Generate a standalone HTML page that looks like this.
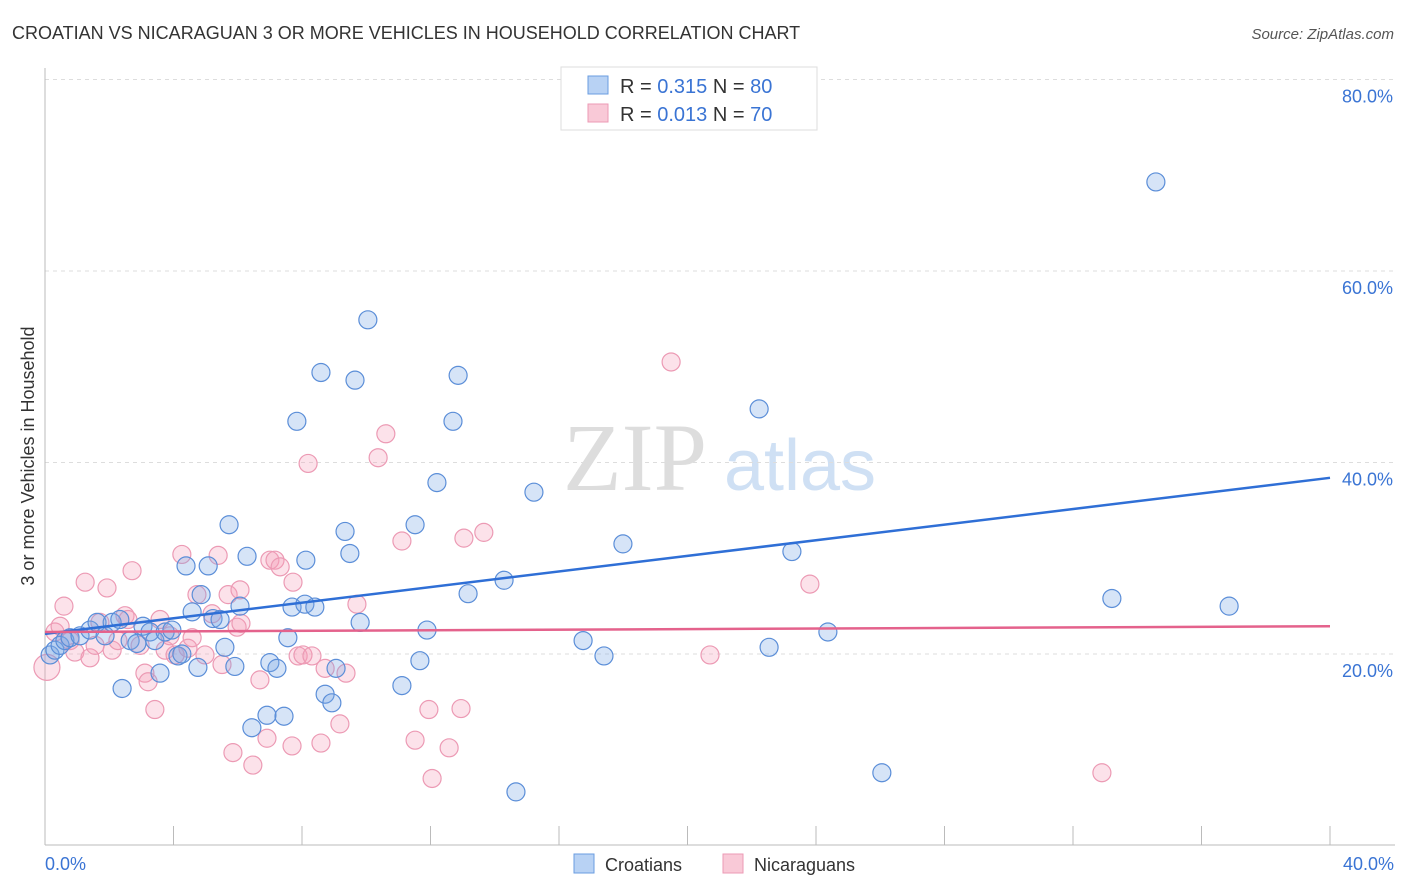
<!DOCTYPE html>
<html><head><meta charset="utf-8"><style>
body{margin:0;background:#fff;font-family:"Liberation Sans",sans-serif}
svg{display:block}
</style></head><body>
<svg width="1406" height="892">
<text x="12" y="39" font-size="18" fill="#333">CROATIAN VS NICARAGUAN 3 OR MORE VEHICLES IN HOUSEHOLD CORRELATION CHART</text>
<text x="1394" y="39" font-size="15" fill="#555" font-style="italic" text-anchor="end">Source: ZipAtlas.com</text>
<text x="635" y="490" font-size="96" fill="#ddd" font-family="Liberation Serif" text-anchor="middle">ZIP</text>
<text x="800" y="490" font-size="72" fill="#cfe0f4" text-anchor="middle">atlas</text>
<g id="grid"></g>
<g id="axes"></g>
<g id="pts"></g>
<g id="lines"></g>
<text transform="translate(34,456) rotate(-90)" font-size="18" fill="#333" text-anchor="middle">3 or more Vehicles in Household</text>
<text x="45" y="870" font-size="18" fill="#3a74d4">0.0%</text>
<text x="1394" y="870" font-size="18" fill="#3a74d4" text-anchor="end">40.0%</text>
<g>
<rect x="561" y="67" width="256" height="63" fill="#fff" stroke="#ddd"/>
<rect x="588" y="76" width="20" height="18" fill="#b8d2f4" stroke="#6a9ce0"/>
<rect x="588" y="104" width="20" height="18" fill="#f9c9d7" stroke="#ec9ab4"/>
<text x="620" y="93" font-size="20" fill="#333">R = <tspan fill="#3a74d4">0.315</tspan>   N = <tspan fill="#3a74d4">80</tspan></text>
<text x="620" y="121" font-size="20" fill="#333">R = <tspan fill="#3a74d4">0.013</tspan>   N = <tspan fill="#3a74d4">70</tspan></text>
</g>
<g>
<rect x="574" y="854" width="20" height="19" fill="#b8d2f4" stroke="#6a9ce0"/>
<text x="605" y="871" font-size="18" fill="#333">Croatians</text>
<rect x="723" y="854" width="20" height="19" fill="#f9c9d7" stroke="#ec9ab4"/>
<text x="754" y="871" font-size="18" fill="#333">Nicaraguans</text>
</g>
</svg>
<script>
const yTicks=[20,40,60,80];
const yTickLabels=["20.0%","40.0%","60.0%","80.0%"];
const xTicks=[0,4,8,12,16,20,24,28,32,36,40];
const blueX=[0.16,0.31,0.47,0.62,0.78,1.09,1.4,1.62,1.87,2.09,2.33,2.4,2.65,2.86,3.05,3.27,3.42,3.58,3.74,3.95,4.14,4.26,4.39,4.58,4.76,4.86,5.08,5.23,5.45,5.6,5.73,5.91,6.07,6.29,6.44,6.91,7.0,7.22,7.44,7.56,7.69,7.84,8.09,8.12,8.4,8.59,8.72,8.93,9.06,9.34,9.49,9.65,9.81,10.05,11.11,11.52,11.67,11.89,12.2,12.7,12.86,13.17,14.29,14.66,15.22,16.75,17.4,17.99,22.23,22.54,23.25,24.37,26.05,33.21,34.58,36.86];
const blueY=[19.9,20.4,20.9,21.4,21.7,21.9,22.5,23.3,21.9,23.3,23.6,16.4,21.4,21.1,22.9,22.3,21.4,18.0,22.3,22.5,19.8,20.0,29.2,24.4,18.6,26.2,29.2,23.7,23.6,20.7,33.5,18.7,25.0,30.2,12.3,13.6,19.1,18.5,13.5,21.7,24.9,44.3,25.2,29.8,24.9,49.4,15.8,14.9,18.5,32.8,30.5,48.6,23.3,54.9,16.7,33.5,19.3,22.5,37.9,44.3,49.1,26.3,27.7,5.6,36.9,21.4,19.8,31.5,45.6,20.7,30.7,22.3,7.6,25.8,69.3,25.0];
const pinkX=[0.06,0.31,0.47,0.59,0.78,0.93,1.25,1.4,1.56,1.71,1.93,2.09,2.27,2.49,2.58,2.71,2.96,3.11,3.21,3.42,3.58,3.74,3.89,4.05,4.26,4.45,4.58,4.73,4.98,5.2,5.39,5.51,5.7,5.85,5.98,6.07,6.1,6.47,6.69,6.91,7.0,7.16,7.32,7.69,7.72,7.88,8.03,8.19,8.31,8.59,8.72,9.18,9.37,9.71,10.37,10.61,11.11,11.52,11.95,12.05,12.58,12.95,13.04,13.66,19.49,20.7,23.81,32.9];
const pinkY=[18.6,22.3,22.9,25.0,21.4,20.2,27.5,19.6,20.9,23.3,26.9,20.4,21.4,24.0,23.6,28.7,20.9,18.0,17.1,14.2,23.6,20.4,21.9,19.9,30.4,20.6,21.7,26.2,19.9,24.2,30.3,18.9,26.2,9.7,22.8,26.7,23.2,8.4,17.3,11.2,29.8,29.8,29.1,10.4,27.5,19.8,19.9,39.9,19.8,10.7,18.5,12.7,18.0,25.2,40.5,43.0,31.8,11.0,14.2,7.0,10.2,14.3,32.1,32.7,50.5,19.9,27.3,7.6];
const blueTrend=[22.1,38.4];
const pinkTrend=[22.3,22.9];
const NS="http://www.w3.org/2000/svg";
const X=v=>45+v*32.125, Y=v=>845.5-v*9.575;
function mk(tag,attrs,parent){const e=document.createElementNS(NS,tag);for(const k in attrs)e.setAttribute(k,attrs[k]);document.getElementById(parent).appendChild(e);return e;}
yTicks.forEach((t,i)=>{
 const l=mk('line',{x1:45,x2:1395,y1:Y(t),y2:Y(t),stroke:'#ddd','stroke-dasharray':'4,4'},'grid');
 
 
 const tx=mk('text',{x:1393,y:Y(t)+23,'font-size':18,fill:'#3a74d4','text-anchor':'end'},'grid');
 tx.textContent=yTickLabels[i];
 
 
});
const ax=mk('line',{x1:45,x2:1395,y1:845,y2:845,stroke:'#bbb'},'axes');


const ay=mk('line',{x1:45,x2:45,y1:68,y2:845,stroke:'#bbb'},'axes');


xTicks.forEach(t=>{
 const l=mk('line',{x1:X(t),x2:X(t),y1:826,y2:845,stroke:'#bbb'},'axes');
 
 
});
pinkX.forEach((x,i)=>{
 const c=mk('circle',{cx:X(x),cy:Y(pinkY[i]),r:i===0?13:9,fill:'rgba(244,160,185,0.3)',stroke:'#ec9ab4','stroke-width':1.2},'pts');
 
 
});
blueX.forEach((x,i)=>{
 const c=mk('circle',{cx:X(x),cy:Y(blueY[i]),r:9,fill:'rgba(120,165,230,0.3)',stroke:'#5b8ed8','stroke-width':1.2},'pts');
 
 
});
const bl=mk('line',{x1:X(0),x2:X(40),y1:Y(blueTrend[0]),y2:Y(blueTrend[1]),stroke:'#2f6fd6','stroke-width':2.5},'lines');


const pl=mk('line',{x1:X(0),x2:X(40),y1:Y(pinkTrend[0]),y2:Y(pinkTrend[1]),stroke:'#e4628c','stroke-width':2.5},'lines');


</script>
</body></html>
